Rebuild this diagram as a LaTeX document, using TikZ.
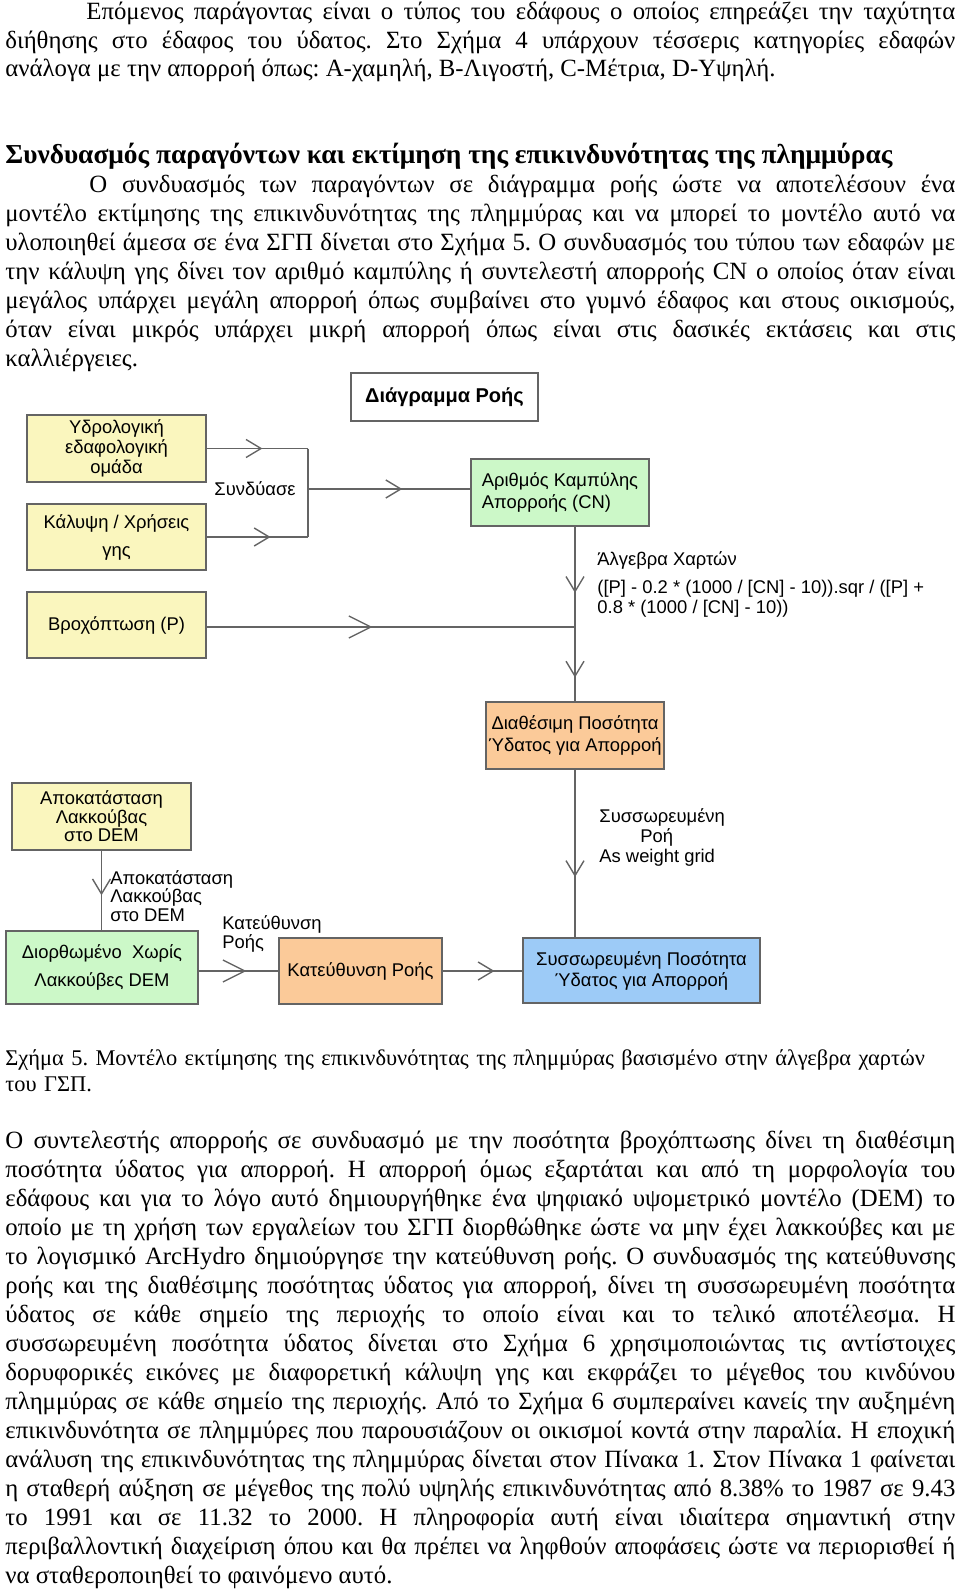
\documentclass[tikz,border=0pt]{standalone}
\usepackage{fontspec}
\setmainfont{Liberation Serif}
\setsansfont{Liberation Sans}
\usetikzlibrary{arrows.meta, decorations.markings}
\definecolor{boxyellow}{RGB}{250,246,190}
\definecolor{boxgreen}{RGB}{204,248,200}
\definecolor{boxorange}{RGB}{251,202,153}
\definecolor{boxblue}{RGB}{157,203,247}
\definecolor{linegray}{RGB}{100,100,100}
\newcommand{\gsize}{\fontsize{9.2}{10}\selectfont}
\hyphenpenalty=10000
\exhyphenpenalty=10000
\tolerance=10000
\frenchspacing

\begin{document}
\begin{tikzpicture}[x=0.5pt, y=-0.5pt,
    para/.style={text width=475pt, align=justify, inner sep=0pt, anchor=base west,
      font=\fontsize{12.4}{14.5}\selectfont},
    box/.style={draw=linegray, line width=0.65pt, inner sep=0pt, align=center,
      font=\sffamily\gsize},
    lbl/.style={inner sep=0pt, align=left, anchor=west, font=\sffamily\gsize},
    conn/.style={draw=linegray, line width=0.7pt},
    arr/.style={conn, postaction={decorate, decoration={markings,
      mark=at position #1 with {\arrow{Straight Barb[length=7.5pt, width=9pt]}}}}},
    bigarr/.style={conn, postaction={decorate, decoration={markings,
      mark=at position #1 with {\arrow{Straight Barb[length=11pt, width=11pt]}}}}}]
  \useasboundingbox (0,0) rectangle (960,1593);

  % text above the figure
  \node[para, font=\fontsize{12.4}{14.25}\selectfont] (intro) at (5,20) {\hspace*{40.5pt}Επόμενος παράγοντας είναι ο τύπος του εδάφους ο οποίος επηρεάζει την ταχύτητα\linebreak
    διήθησης στο έδαφος του ύδατος. Στο Σχήμα 4 υπάρχουν τέσσερις κατηγορίες εδαφών\linebreak
    ανάλογα με την απορροή όπως: A-χαμηλή, B-Λιγοστή, C-Μέτρια, D-Υψηλή.};
  \node[para, font=\bfseries\fontsize{13.7}{15}\selectfont] (heading) at (5,164) {Συνδυασμός παραγόντων και εκτίμηση της επικινδυνότητας της πλημμύρας};
  \node[para] (combtext) at (5,193) {\hspace*{42pt}Ο συνδυασμός των παραγόντων σε διάγραμμα ροής ώστε να αποτελέσουν ένα\linebreak
    μοντέλο εκτίμησης της επικινδυνότητας της πλημμύρας και να μπορεί το μοντέλο αυτό να\linebreak
    υλοποιηθεί άμεσα σε ένα ΣΓΠ δίνεται στο Σχήμα 5. Ο συνδυασμός του τύπου των εδαφών με\linebreak
    την κάλυψη γης δίνει τον αριθμό καμπύλης ή συντελεστή απορροής CN ο οποίος όταν είναι\linebreak
    μεγάλος υπάρχει μεγάλη απορροή όπως συμβαίνει στο γυμνό έδαφος και στους οικισμούς,\linebreak
    όταν είναι μικρός υπάρχει μικρή απορροή όπως είναι στις δασικές εκτάσεις και στις\linebreak
    καλλιέργειες.};

  % flow diagram
  \node[box, fill=white, font=\sffamily\bfseries\fontsize{10}{12}\selectfont,
    minimum width=93.5pt, minimum height=24pt] (title) at (444.5,397) {Διάγραμμα Ροής};
  \node[box, fill=boxyellow, minimum width=89.5pt, minimum height=33.5pt] (hydro) at (116.5,448.5) {Υδρολογική\\εδαφολογική\\ομάδα};
  \node[box, fill=boxyellow, minimum width=89.5pt, minimum height=33pt] (cover) at (116.5,537) {Κάλυψη / Χρήσεις\\[4pt]γης};
  \node[box, fill=boxyellow, minimum width=89.5pt, minimum height=33pt] (rain) at (116.5,625) {Βροχόπτωση (P)};
  \node[box, fill=boxgreen, align=left, minimum width=89pt, minimum height=33.5pt] (cn) at (560,492.5) {Αριθμός Καμπύλης\\[1pt]Απορροής (CN)};
  \node[box, fill=boxorange, minimum width=89pt, minimum height=33.5pt] (avail) at (575,735.5) {Διαθέσιμη Ποσότητα\\[1pt]Ύδατος για Απορροή};
  \node[box, fill=boxyellow, minimum width=89.5pt, minimum height=33.5pt] (fill) at (101.5,816.5) {Αποκατάσταση\\[-0.75pt]Λακκούβας\\[-0.75pt]στο DEM};
  \node[box, fill=boxgreen, minimum width=96pt, minimum height=36.5pt] (dem) at (102,967.5) {Διορθωμένο\ \ Χωρίς\\[4pt]Λακκούβες DEM};
  \node[box, fill=boxorange, minimum width=81.5pt, minimum height=33pt] (fdir) at (360.5,971) {Κατεύθυνση Ροής};
  \node[box, fill=boxblue, minimum width=118.5pt, minimum height=32.5pt] (acc) at (641.5,970.5) {Συσσωρευμένη Ποσότητα\\[0.5pt]Ύδατος για Απορροή};
  \coordinate (join) at (308,489);
  \coordinate (merge) at (575,627);

  % labels on the connectors
  \node[lbl, anchor=center] (combine) at (255,489) {Συνδύασε};
  \node[lbl] (algebra) at (597,584) {Άλγεβρα Χαρτών\\[4pt]([P] - 0.2 * (1000 / [CN] - 10)).sqr / ([P] +\\0.8 * (1000 / [CN] - 10))};
  \node[lbl] (weight) at (599,837) {Συσσωρευμένη\\\hspace*{20.5pt}Ροή\\As weight grid};
  \node[lbl, font=\sffamily\fontsize{9.2}{9.2}\selectfont] (filllbl) at (110,896) {Αποκατάσταση\\Λακκούβας\\στο DEM};
  \node[lbl, font=\sffamily\fontsize{9.2}{9.2}\selectfont] (dirlbl) at (222,934) {Κατεύθυνση\\Ροής};

  % inputs combined into CN
  \draw[arr=0.55] (hydro.east) -- (hydro.east -| join);
  \draw[arr=0.63] (cover.east) -- (cover.east -| join);
  \draw[conn] (hydro.east -| join) -- (cover.east -| join);
  \draw[arr=0.58] (join) -- (join -| cn.west);
  % rainfall and map algebra
  \draw[bigarr=0.45] (rain.east |- merge) -- (merge);
  \draw[arr=0.66] (merge |- cn.south) -- (merge);
  \draw[arr=0.68] (merge) -- (avail.north);
  \draw[arr=0.64] (avail.south) -- (avail.south |- acc.north);
  % DEM chain
  \draw[arr=0.56] (fill.south) -- (fill.south |- dem.north);
  \draw[bigarr=0.6] (dem.east |- fdir.west) -- (fdir.west);
  \draw[arr=0.65] (fdir.east) -- (fdir.east -| acc.west);

  % text below the figure
  \node[para, font=\fontsize{11.2}{13}\selectfont, align=left] (caption) at (5,1065) {Σχήμα 5. Μοντέλο εκτίμησης της επικινδυνότητας της πλημμύρας βασισμένο στην άλγεβρα χαρτών\\
    του ΓΣΠ.};
  \node[para] (result) at (5,1148) {Ο συντελεστής απορροής σε συνδυασμό με την ποσότητα βροχόπτωσης δίνει τη διαθέσιμη\linebreak
    ποσότητα ύδατος για απορροή. Η απορροή όμως εξαρτάται και από τη μορφολογία του\linebreak
    εδάφους και για το λόγο αυτό δημιουργήθηκε ένα ψηφιακό υψομετρικό μοντέλο (DEM) το\linebreak
    οποίο με τη χρήση των εργαλείων του ΣΓΠ διορθώθηκε ώστε να μην έχει λακκούβες και με\linebreak
    το λογισμικό ArcHydro δημιούργησε την κατεύθυνση ροής. Ο συνδυασμός της κατεύθυνσης\linebreak
    ροής και της διαθέσιμης ποσότητας ύδατος για απορροή, δίνει τη συσσωρευμένη ποσότητα\linebreak
    ύδατος σε κάθε σημείο της περιοχής το οποίο είναι και το τελικό αποτέλεσμα. Η\linebreak
    συσσωρευμένη ποσότητα ύδατος δίνεται στο Σχήμα 6 χρησιμοποιώντας τις αντίστοιχες\linebreak
    δορυφορικές εικόνες με διαφορετική κάλυψη γης και εκφράζει το μέγεθος του κινδύνου\linebreak
    πλημμύρας σε κάθε σημείο της περιοχής. Από το Σχήμα 6 συμπεραίνει κανείς την αυξημένη\linebreak
    επικινδυνότητα σε πλημμύρες που παρουσιάζουν οι οικισμοί κοντά στην παραλία. Η εποχική\linebreak
    ανάλυση της επικινδυνότητας της πλημμύρας δίνεται στον Πίνακα 1. Στον Πίνακα 1 φαίνεται\linebreak
    η σταθερή αύξηση σε μέγεθος της πολύ υψηλής επικινδυνότητας από 8.38\% το 1987 σε 9.43\linebreak
    το 1991 και σε 11.32 το 2000. Η πληροφορία αυτή είναι ιδιαίτερα σημαντική στην\linebreak
    περιβαλλοντική διαχείριση όπου και θα πρέπει να ληφθούν αποφάσεις ώστε να περιορισθεί ή\linebreak
    να σταθεροποιηθεί το φαινόμενο αυτό.};
\end{tikzpicture}
\end{document}
